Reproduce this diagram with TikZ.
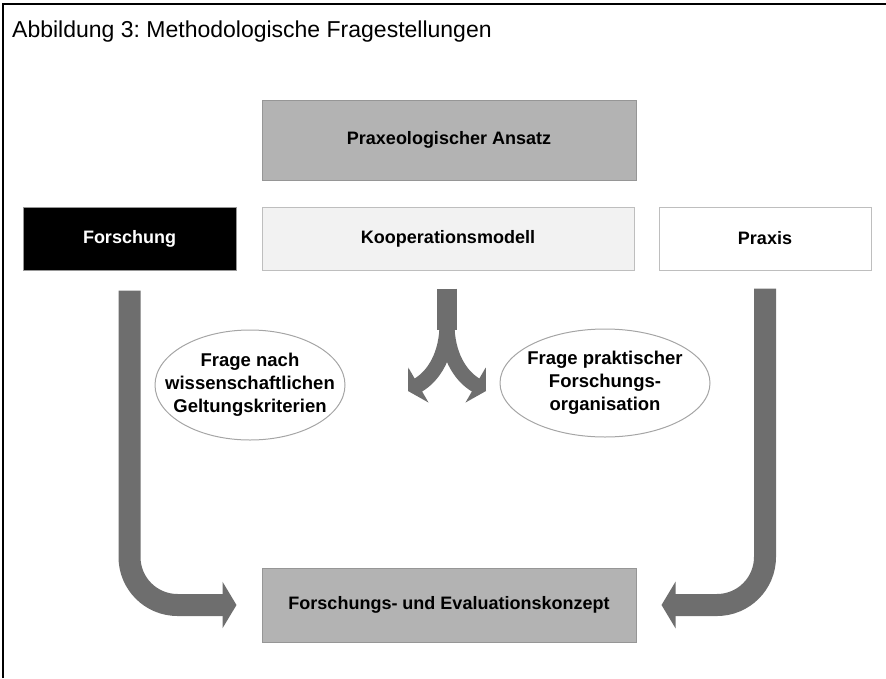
\documentclass[tikz,border=0pt]{standalone}
\usepackage{fontspec}
\setmainfont{Liberation Sans}
\usetikzlibrary{arrows.meta,shapes.geometric}

\definecolor{boxgray}{RGB}{179,179,179}
\definecolor{boxline}{RGB}{150,150,150}
\definecolor{lightfill}{RGB}{242,242,242}
\definecolor{lightline}{RGB}{190,190,190}
\definecolor{ellline}{RGB}{165,165,165}
\definecolor{arrowgray}{RGB}{110,110,110}

\begin{document}
\frenchspacing
\begin{tikzpicture}[
        x=1pt, y=1pt,
        box/.style = {draw=lightline, line width=1pt, inner sep=0pt, minimum height=63pt,
            font=\fontsize{18}{22}\selectfont\bfseries}, % Rechtecke
        frage/.style = {ellipse, draw=ellline, line width=1pt, inner xsep=-40pt, inner ysep=0pt,
            align=center, font=\fontsize{18.5}{23}\selectfont\bfseries}, % Ellipsen
        bigarrow/.style = {draw=arrowgray, line width=22pt, rounded corners=48pt,
            -{Triangle[length=14pt, width=46pt]}},
        forkarrow/.style = {draw=arrowgray, line width=15pt,
            -{Triangle[length=12pt, width=40pt]}},
    ]
    \useasboundingbox (0,0) rectangle (886,-678);

    % Rahmen
    \draw[line width=2.5pt] (3,-678) -- (3,-4) -- (886,-4);
    \node[anchor=base west, inner sep=0pt, font=\fontsize{23}{27}\selectfont] (titel)
        at (12,-37) {Abbildung 3: Methodologische Fragestellungen};

    \node[box, draw=boxline, fill=boxgray, minimum width=374pt, minimum height=80pt] (ansatz)
        at (449,-140) {Praxeologischer Ansatz};
    \node[box, draw=boxline, fill=black, text=white, minimum width=213pt] (forschung)
        at (129.5,-238.5) {Forschung};
    \node[box, fill=lightfill, minimum width=372pt] (koop)
        at (448,-238.5) {Kooperationsmodell};
    \node[box, fill=white, minimum width=212pt] (praxis)
        at (765,-238.5) {Praxis};
    \node[box, draw=boxline, fill=boxgray, minimum width=374pt, minimum height=74pt] (konzept)
        at (449,-605) {Forschungs- und Evaluationskonzept};

    \node[frage, minimum width=190pt, minimum height=110pt] (frage1)
        at (250,-385) {Frage nach\\wissenschaftlichen\\Geltungskriterien};
    \node[frage, minimum width=210pt, minimum height=108pt] (frage2)
        at (605,-383) {Frage praktischer\\Forschungs-\\organisation};

    % Pfeile
    \draw[bigarrow] ([yshift=-20pt]forschung.south) |- ([xshift=-25pt]konzept.west);
    \draw[bigarrow] ([yshift=-18pt]praxis.south) |- ([xshift=25pt]konzept.east);

    \coordinate (gabel) at (447,-324);
    \coordinate (spitzeL) at (408,-391);
    \coordinate (spitzeR) at (486,-391);
    \draw[draw=arrowgray, line width=20pt] ([yshift=-18pt]koop.south -| gabel) -- ([yshift=-6pt]gabel);
    \draw[forkarrow] (gabel) to[out=-90, in=30] (spitzeL);
    \draw[forkarrow] (gabel) to[out=-90, in=150] (spitzeR);
\end{tikzpicture}
\end{document}
